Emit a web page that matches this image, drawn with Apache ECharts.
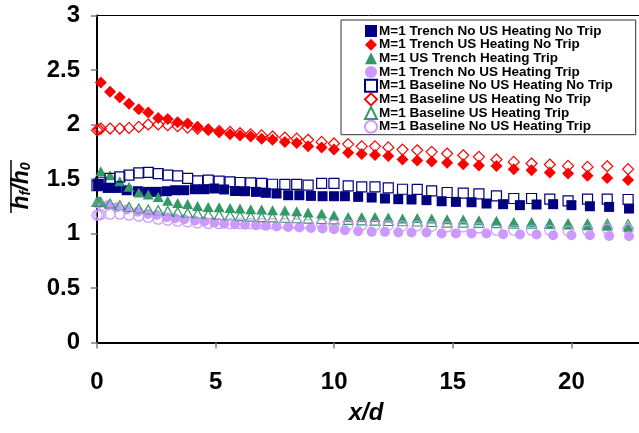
<!DOCTYPE html>
<html>
<head>
<meta charset="utf-8">
<script src="https://cdn.jsdelivr.net/npm/echarts@6/dist/echarts.min.js"></script>
<style>html,body{margin:0;padding:0;background:#fff}#c{width:639px;height:433px}</style>
</head>
<body>
<div id="c"></div>
<script>
// ---- data ----
const seriesNames = [
  'M=1 Trench No US Heating No Trip',
  'M=1 Trench US Heating No Trip',
  'M=1 US Trench Heating Trip',
  'M=1 Trench No US Heating Trip',
  'M=1 Baseline No US Heating No Trip',
  'M=1 Baseline US Heating No Trip',
  'M=1 Baseline US Heating Trip',
  'M=1 Baseline No US Heating Trip'
];
const xTicks = [0, 5, 10, 15, 20, 25];
const yTicks = [0, 0.5, 1, 1.5, 2, 2.5, 3];

// x positions (x/d)
const xA = [0.16,0.55,0.96,1.35,1.76,2.16,2.58,2.98,3.40,3.82,4.24,4.69,5.15,5.61,6.03,6.48,6.94,7.40,7.92,8.42,8.90,9.47,9.99,10.59,11.16,11.72,12.28,12.88,13.50,14.11,14.76,15.44,16.10,16.84,17.57,18.32,19.09,19.86,20.68,21.51,22.39];
const xB = [0.06,0.45,0.83,1.25,1.72,2.14,2.52,2.94,3.29,3.68,4.13,4.52,4.94,5.36,5.82,6.24,6.70,7.12,7.57,8.06,8.53,9.02,9.51,9.99,10.45,11.01,11.58,12.14,12.70,13.26,13.89,14.53,15.13,15.79,16.42,17.12,17.83,18.53,19.23,20.00,20.78,21.59,22.43];
const xH = [0.0,0.08,0.16,0.55,0.96,1.35,1.76,2.16,2.58,2.98,3.40,3.82,4.24,4.69,5.15,5.61,6.03,6.48,6.94,7.40,7.92,8.42,8.90,9.47,9.99,10.59,11.16,11.72,12.28,12.88,13.50,14.11,14.76,15.44,16.10,16.84,17.57,18.32,19.09,19.86,20.68,21.51,22.39];

// y values h_f/h_0
const trenchNoUSNoTrip = [1.443,1.418,1.418,1.397,1.388,1.382,1.382,1.388,1.397,1.397,1.406,1.406,1.413,1.404,1.390,1.388,1.382,1.373,1.367,1.351,1.351,1.345,1.342,1.342,1.342,1.336,1.330,1.321,1.315,1.312,1.306,1.296,1.290,1.287,1.275,1.269,1.260,1.266,1.269,1.260,1.250,1.244,1.229];
const trenchUSNoTrip = [2.385,2.30,2.25,2.19,2.14,2.11,2.06,2.05,2.02,2.01,1.98,1.95,1.93,1.91,1.90,1.89,1.87,1.86,1.84,1.83,1.80,1.79,1.77,1.74,1.73,1.72,1.71,1.68,1.67,1.66,1.65,1.635,1.625,1.62,1.59,1.58,1.56,1.55,1.53,1.51,1.49];
const usTrenchTrip = [1.57,1.535,1.48,1.43,1.376,1.357,1.336,1.30,1.28,1.27,1.253,1.244,1.24,1.235,1.23,1.223,1.22,1.214,1.21,1.205,1.193,1.183,1.168,1.152,1.152,1.152,1.147,1.138,1.143,1.138,1.131,1.128,1.122,1.116,1.106,1.106,1.097,1.083,1.076,1.07,1.06];
const trenchNoUSTrip = [1.27,1.26,1.24,1.22,1.20,1.18,1.17,1.15,1.14,1.13,1.12,1.11,1.10,1.09,1.085,1.08,1.075,1.07,1.065,1.06,1.055,1.05,1.046,1.04,1.03,1.021,1.015,1.015,1.009,1.009,1.009,1.0,1.0,1.0,1.0,0.994,0.991,0.991,0.984,0.984,0.984,0.978,0.975];
const baseNoUSNoTrip = [1.44,1.45,1.47,1.505,1.52,1.535,1.556,1.56,1.55,1.535,1.529,1.505,1.483,1.49,1.48,1.473,1.468,1.464,1.459,1.452,1.45,1.45,1.443,1.459,1.459,1.437,1.428,1.428,1.418,1.406,1.404,1.391,1.376,1.37,1.363,1.345,1.321,1.321,1.315,1.299,1.315,1.315,1.312];
const baseUSNoTrip = [1.948,1.954,1.963,1.963,1.963,1.969,1.978,2.0,2.0,1.994,1.984,1.972,1.963,1.954,1.94,1.932,1.92,1.91,1.90,1.89,1.88,1.87,1.86,1.84,1.826,1.82,1.80,1.80,1.79,1.77,1.764,1.749,1.734,1.718,1.703,1.679,1.657,1.642,1.633,1.62,1.611,1.617,1.59];
const baseUSTrip = [1.29,1.29,1.29,1.275,1.26,1.244,1.229,1.22,1.214,1.207,1.198,1.189,1.183,1.177,1.17,1.165,1.16,1.155,1.15,1.148,1.145,1.14,1.137,1.133,1.13,1.125,1.12,1.118,1.115,1.112,1.11,1.105,1.10,1.10,1.097,1.095,1.09,1.09,1.088,1.09,1.09,1.09,1.085];
const baseNoUSTrip = [1.168,1.17,1.174,1.177,1.177,1.168,1.159,1.147,1.131,1.122,1.113,1.106,1.097,1.092,1.09,1.09,1.09,1.09,1.09,1.09,1.09,1.09,1.085,1.085,1.08,1.08,1.078,1.075,1.075,1.07,1.07,1.065,1.06,1.06,1.051,1.03,1.03,1.03,1.03,1.024,1.03,1.04,1.04];

function pairs(xs, ys) { return ys.map((y, i) => [xs[i], y]); }

const FONT = 'Liberation Sans, Arial, sans-serif';
const NAVY = '#000080', RED = '#FF0000', GREEN = '#339966', LAV = '#CC99FF';
const CLEAR = 'rgba(255,255,255,0)';

function sc(name, data, symbol, size, color, hollow) {
  return {
    name, type: 'scatter', data, symbol, symbolSize: size,
    itemStyle: hollow ? { color: CLEAR, borderColor: color, borderWidth: 1.2, opacity: 1 } : { color: color, opacity: 1 },
    emphasis: { disabled: true }
  };
}

const chart = echarts.init(document.getElementById('c'), null, { renderer: 'canvas' });
chart.setOption({
  animation: false,
  backgroundColor: '#fff',
  grid: { left: 97, top: 15.5, width: 593, height: 327, outerBoundsMode: 'none', containLabel: false,
          show: true, borderColor: '#000', borderWidth: 1, backgroundColor: 'transparent' },
  xAxis: {
    type: 'value', min: xTicks[0], max: xTicks[xTicks.length - 1], interval: 5,
    axisLine: { lineStyle: { color: '#000', width: 2 } },
    axisTick: { show: true, length: 6, lineStyle: { color: '#808080', width: 1.5 } },
    axisLabel: { color: '#000', fontFamily: FONT, fontWeight: 'bold', fontSize: 24, margin: 28 },
    splitLine: { show: false }
  },
  yAxis: {
    type: 'value', min: yTicks[0], max: yTicks[yTicks.length - 1], interval: 0.5,
    axisLine: { show: true, lineStyle: { color: '#000', width: 2 } },
    axisTick: { show: true, length: 6, lineStyle: { color: '#808080', width: 1.5 } },
    axisLabel: { color: '#000', fontFamily: FONT, fontWeight: 'bold', fontSize: 24, margin: 17 },
    splitLine: { show: false }
  },
  legend: {
    orient: 'vertical', left: 341, top: 20,
    backgroundColor: '#fff', borderColor: '#333', borderWidth: 1,
    padding: [4, 23, 1, 23],
    itemWidth: 12, itemHeight: 12, itemGap: -0.33,
    textStyle: { fontFamily: FONT, fontWeight: 'bold', fontSize: 13.5, lineHeight: 12, color: '#000', padding: [0, 0, 0, -3] },
    data: seriesNames
  },
  graphic: [
    { type: 'text', x: 22, y: 186, rotation: Math.PI / 2,
      style: { text: '{a|h}{b|f}{a|/h}{b|0}', align: 'center', verticalAlign: 'middle',
        rich: { a: { fontFamily: FONT, fontStyle: 'italic', fontWeight: 'bold', fontSize: 23 },
                b: { fontFamily: FONT, fontStyle: 'italic', fontWeight: 'bold', fontSize: 14, verticalAlign: 'bottom' } } } },
    { type: 'line', shape: { x1: 11, y1: 160, x2: 11, y2: 213 }, style: { stroke: '#000', lineWidth: 1.5 } },
    { type: 'text', x: 366, y: 413,
      style: { text: 'x/d', align: 'center', verticalAlign: 'middle', fontFamily: FONT, fontStyle: 'italic', fontWeight: 'bold', fontSize: 24, fill: '#000' } }
  ],
  series: [
    sc(seriesNames[0], pairs(xB, trenchNoUSNoTrip), 'rect', 10, NAVY, false),
    sc(seriesNames[1], pairs(xA, trenchUSNoTrip), 'diamond', 12, RED, false),
    sc(seriesNames[2], pairs(xA, usTrenchTrip), 'triangle', [11, 10], GREEN, false),
    sc(seriesNames[3], pairs(xB, trenchNoUSTrip), 'circle', 10, LAV, false),
    sc(seriesNames[4], pairs(xH, baseNoUSNoTrip), 'rect', 10, NAVY, true),
    sc(seriesNames[5], pairs(xH, baseUSNoTrip), 'diamond', 11, RED, true),
    sc(seriesNames[6], pairs(xH, baseUSTrip), 'triangle', [10, 9], GREEN, true),
    sc(seriesNames[7], pairs(xH, baseNoUSTrip), 'circle', 10, LAV, true)
  ]
});
</script>
</body>
</html>
